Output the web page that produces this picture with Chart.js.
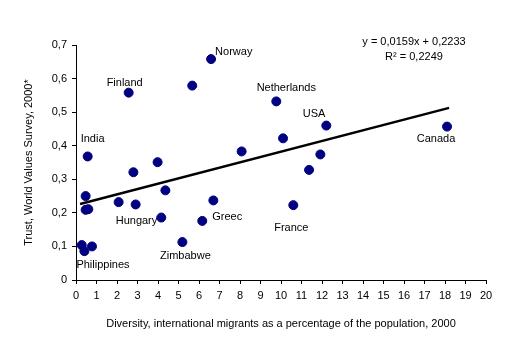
<!DOCTYPE html>
<html>
<head>
<meta charset="utf-8">
<script src="https://cdn.jsdelivr.net/npm/chart.js@4"></script>
<style>
  html, body { margin: 0; padding: 0; background: #fff; }
  #wrap { width: 511px; height: 344px; }
</style>
</head>
<body>
<div id="wrap"><canvas id="chart"></canvas></div>
<script>
// migrants as % of population (x) and trust (y)
const migrants = [6.59, 2.57, 5.67, 0.57, 3.98, 8.08, 9.77, 12.21, 10.1, 18.1, 11.92, 11.37, 10.6,
                  2.8, 0.47, 0.47, 0.6, 2.08, 2.91, 4.36, 4.16, 6.7, 6.16, 5.19, 0.28, 0.41, 0.78];
const trust    = [0.658, 0.558, 0.579, 0.368, 0.351, 0.383, 0.532, 0.46, 0.422, 0.457, 0.374, 0.328, 0.223,
                  0.321, 0.25, 0.209, 0.211, 0.232, 0.225, 0.267, 0.186, 0.237, 0.176, 0.113, 0.104, 0.086, 0.1];
const names    = ["Norway", "Finland", "", "India", "", "", "Netherlands", "USA", "", "Canada", "", "", "France",
                  "", "", "", "", "", "", "", "Hungary", "", "Greec", "Zimbabwe", "", "Philippines", ""];

const slope = 0.0159, intercept = 0.2233, r2 = 0.2249;
const trendRange = [0.2, 18.2];

const fmt = v => String(v).replace(".", ",");

// where each country name sits relative to its dot
const labelPlace = {
    Norway:      ["left",   4,  -7],
    Finland:     ["center", -4, -10],
    India:       ["left",   -7, -17],
    Netherlands: ["center", 10, -13],
    USA:         ["right",  -1, -12],
    Canada:      ["center", -11, 12],
    France:      ["center", -2, 23],
    Greec:       ["left",   10, -4],
    Hungary:     ["right",  -4, 3],
    Zimbabwe:    ["center", 3,  14],
    Philippines: ["left",   -8, 14],
};

const FONT = "Liberation Sans, Arial, sans-serif";

const textPlugin = {
    id: "textLabels",
    afterDatasetsDraw(chart) {
        const ctx = chart.ctx;
        const meta = chart.getDatasetMeta(1);
        ctx.save();
        ctx.font = "11px " + FONT;
        ctx.fillStyle = "#000";
        ctx.textBaseline = "middle";
        meta.data.forEach((pt, i) => {
            const n = names[i];
            if (!n) return;
            const [align, dx, dy] = labelPlace[n];
            ctx.textAlign = align;
            ctx.fillText(n, pt.x + dx, pt.y + dy);
        });
        // regression equation
        const a = chart.chartArea;
        const cx = a.right - 72, cy = a.top - 4;
        ctx.textAlign = "center";
        ctx.fillText("y = " + fmt(slope) + "x + " + fmt(intercept), cx, cy + 1);
        ctx.fillText("R² = " + fmt(r2), cx, cy + 16);
        ctx.restore();
    }
};

new Chart(document.getElementById("chart"), {
    type: "scatter",
    data: {
        datasets: [
            {
                type: "line",
                data: trendRange.map(x => ({ x, y: slope * x + intercept })),
                borderColor: "#000",
                borderWidth: 2.5,
                pointRadius: 0,
                fill: false,
                order: 0,
            },
            {
                data: migrants.map((x, i) => ({ x, y: trust[i] })),
                backgroundColor: "#000080",
                borderColor: "#000080",
                pointRadius: 4.5,
                pointHoverRadius: 4.5,
                order: 1,
            }
        ]
    },
    options: {
        responsive: true, maintainAspectRatio: false, animation: false,
        layout: { padding: { left: 0, top: 45, right: 25, bottom: 0 } },
        plugins: { legend: { display: false }, tooltip: { enabled: false } },
        scales: {
            x: {
                type: "linear", min: 0, max: 20,
                afterFit: s => { s.height = 64; },
                ticks: { stepSize: 1, color: "#000", padding: 5, font: { family: FONT, size: 11 } },
                grid: { drawOnChartArea: false, tickLength: 4, color: "#000" },
                border: { color: "#000", width: 1 },
                title: {
                    display: true, color: "#000", padding: { top: 0, bottom: 13 },
                    text: "Diversity, international migrants as a percentage of the population, 2000",
                    font: { family: FONT, size: 11 }
                }
            },
            y: {
                min: 0, max: 0.7,
                afterFit: s => { s.width = 76; },
                ticks: { stepSize: 0.1, color: "#000", padding: 5, font: { family: FONT, size: 11 },
                         callback: v => v === 0 ? "0" : fmt(v.toFixed(1)) },
                grid: { drawOnChartArea: false, tickLength: 4, color: "#000" },
                border: { color: "#000", width: 1 },
                title: {
                    display: true, color: "#000", padding: { top: 22, bottom: 0 },
                    text: "Trust, World Values Survey, 2000*",
                    font: { family: FONT, size: 11 }
                }
            }
        }
    },
    plugins: [textPlugin]
});
</script>
</body>
</html>
